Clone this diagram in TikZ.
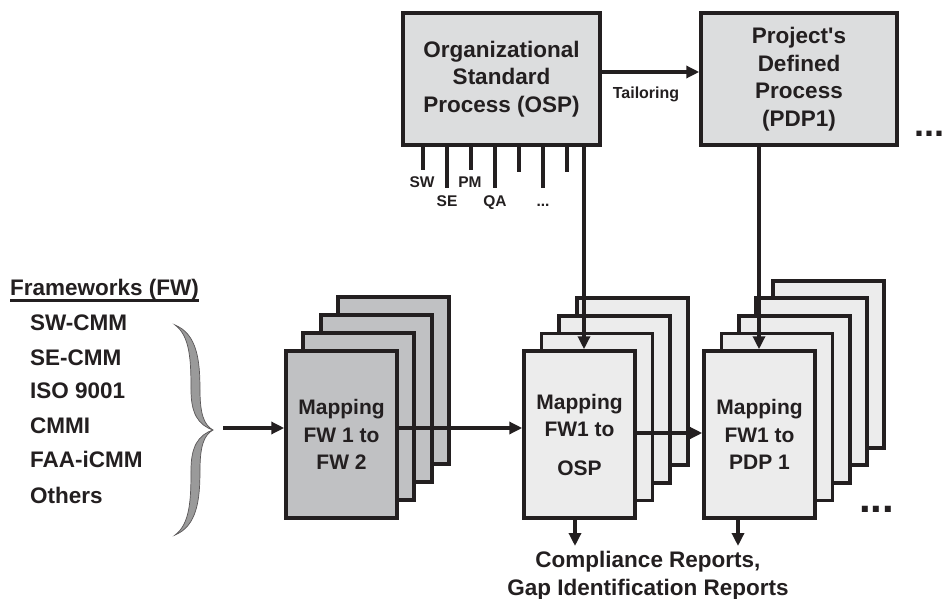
\documentclass[tikz,border=0pt]{standalone}
\usepackage{fontspec}
\setmainfont{Liberation Sans}
\usetikzlibrary{arrows.meta}
\definecolor{ink}{HTML}{231F20}
\definecolor{procfill}{HTML}{DCDDDE}
\definecolor{fwfill}{HTML}{C0C1C3}
\definecolor{mapfill}{HTML}{ECECEC}
\definecolor{bracefill}{HTML}{9A9A9A}
\newcommand\heavyul[1]{\setbox0\hbox{#1}\rlap{\rule[-6.5pt]{\wd0}{2.6pt}}\box0}
\tikzset{
  box/.style={draw=ink, line width=3.5pt, fill=#1, inner sep=0pt, align=center,
    font=\bfseries\fontsize{22.5}{27.5}\selectfont, text=ink},
  sheet/.style={box=#1, minimum width=111pt, minimum height=167pt,
    font=\bfseries\fontsize{21}{27.5}\selectfont},
  arr/.style={draw=ink, line width=3.3pt, -{Triangle[length=13pt,width=12pt]}},
  tickline/.style={draw=ink, line width=3.3pt},
  lbl/.style={font=\bfseries\fontsize{22.5}{28}\selectfont, inner sep=0pt, text=ink},
  small/.style={font=\bfseries\fontsize{15.5}{18}\selectfont, inner sep=0pt, text=ink},
  dots/.style={font=\bfseries\fontsize{#1}{#1}\selectfont, inner sep=0pt, text=ink},
}
\begin{document}
\begin{tikzpicture}[x=1pt,y=-1pt]
\useasboundingbox (0,0) rectangle (943,599);

% process boxes
\node[box=procfill, minimum width=197pt, minimum height=132pt] (osp) at (501.5,79)
  {Organizational\\Standard\\Process (OSP)};
\node[box=procfill, minimum width=196pt, minimum height=132pt] (pdp) at (799,79)
  {Project\textquotesingle s\\Defined\\Process\\(PDP1)};
\node[dots=36, anchor=base west] (dotsA) at (914,137) {...};

% tailoring
\draw[arr] ([yshift=7pt]osp.east) -- ([yshift=7pt]osp.east -| pdp.west);
\node[font=\bfseries\fontsize{16}{18}\selectfont, inner sep=0pt, text=ink, anchor=base] (tail) at (646,99) {Tailoring};

% ticks under OSP
\coordinate (t1) at (423,170);
\coordinate (t2) at (447,188);
\coordinate (t3) at (471,170);
\coordinate (t4) at (495,188);
\coordinate (t5) at (519,172);
\coordinate (t6) at (543,188);
\coordinate (t7) at (567,172);
\foreach \t in {t1,t2,t3,t4,t5,t6,t7}
  \draw[tickline] (\t |- osp.south) -- (\t);
\node[small, anchor=base] (lsw) at (422,188) {SW};
\node[small, anchor=base] (lse) at (447,207) {SE};
\node[small, anchor=base] (lpm) at (470,188) {PM};
\node[small, anchor=base] (lqa) at (495,207) {QA};
\node[small, anchor=base] (ldots) at (543,207) {...};

% frameworks list
\node[lbl, anchor=base west] (fwhead) at (10,295) {\heavyul{Frameworks (FW)}};
\node[lbl, anchor=base west] (f1) at (30,330) {SW-CMM};
\node[lbl, anchor=base west] (f2) at (30,365) {SE-CMM};
\node[lbl, anchor=base west] (f3) at (30,398) {ISO 9001};
\node[lbl, anchor=base west] (f4) at (30,433) {CMMI};
\node[lbl, anchor=base west] (f5) at (30,467) {FAA-iCMM};
\node[lbl, anchor=base west] (f6) at (30,503) {Others};

% brace
\fill[bracefill, draw=ink!75, line width=0.7pt]
  (175,325) .. controls (197,334) and (200,360) .. (200,390)
  .. controls (200,414) and (204,425) .. (213,430)
  .. controls (204,435) and (200,446) .. (200,470)
  .. controls (200,500) and (197,526) .. (175,535)
  .. controls (190,524) and (191,500) .. (191,470)
  .. controls (191,447) and (198,435) .. (213,430)
  .. controls (198,425) and (191,413) .. (191,390)
  .. controls (191,360) and (190,336) .. (175,325) -- cycle;
\coordinate (bracetip) at (223,428);

% FW2 stack
\foreach \k/\dx/\dy in {3/52/-54, 2/35/-36, 1/17/-18}
  \node[sheet=fwfill] (fwb\k) at (341.5+\dx,434.5+\dy) {};
\node[sheet=fwfill] (fw2) at (341.5,434.5) {Mapping\\FW 1 to\\FW 2};

% OSP mapping stack
\foreach \k/\dx/\dy in {3/53/-53, 2/35/-35, 1/17.5/-17.5}
  \node[sheet=mapfill] (ospb\k) at (579.5+\dx,434.5+\dy) {};
\node[sheet=mapfill] (ospmap) at (579.5,434.5) {Mapping\\FW1 to\\[11pt]OSP};

% PDP mapping stack
\foreach \k/\dx/\dy in {4/69/-70, 3/52/-53, 2/35/-35, 1/17.5/-17.5}
  \node[sheet=mapfill] (pdpb\k) at (759.5+\dx,434.5+\dy) {};
\node[sheet=mapfill] (pdpmap) at (759.5,434.5) {Mapping\\FW1 to\\PDP 1};
\node[dots=42, anchor=base west] (dotsB) at (859,512) {...};

% connectors
\draw[arr] (bracetip) -- (bracetip -| fw2.west);
\coordinate (fwout) at (397,428);
\draw[arr] (fwout) -- (fwout -| ospmap.west);
\coordinate (ospout) at (635,433);
\draw[arr] (ospout) -- (ospout -| pdpmap.west);
\coordinate (ospdown) at (584,145);
\draw[arr] (ospdown) -- (ospdown |- ospmap.north);
\coordinate (pdpdown) at (759,145);
\draw[arr] (pdpdown) -- (pdpdown |- pdpmap.north);
\coordinate (rep1) at (575,518);
\draw[arr] (rep1) -- (575,546);
\coordinate (rep2) at (738,518);
\draw[arr] (rep2) -- (738,546);

\node[lbl, align=center, anchor=base] (reports) at (648,595)
  {Compliance Reports,\\Gap Identification Reports};
\end{tikzpicture}
\end{document}
